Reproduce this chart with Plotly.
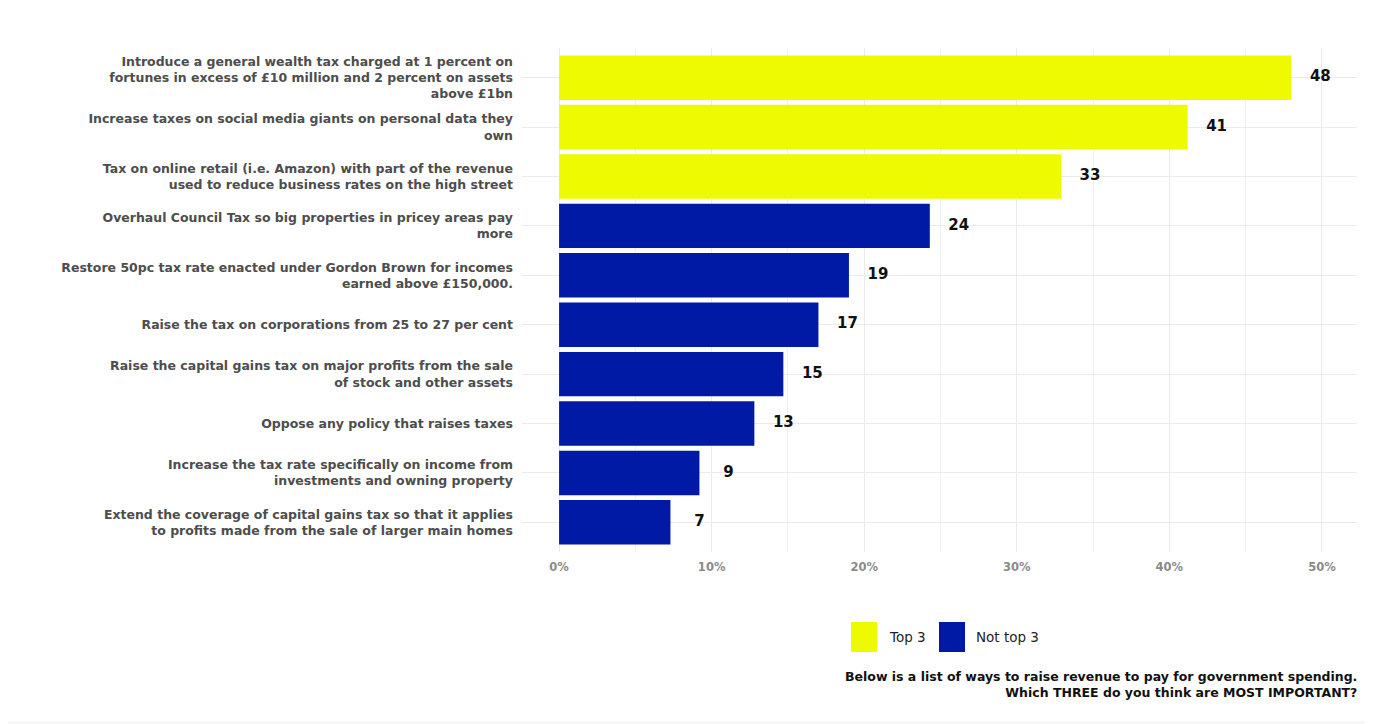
import plotly.graph_objects as go

# ---- data ----
categories = [
    "Introduce a general wealth tax charged at 1 percent on<br>fortunes in excess of £10 million and 2 percent on assets<br>above £1bn",
    "Increase taxes on social media giants on personal data they<br>own",
    "Tax on online retail (i.e. Amazon) with part of the revenue<br>used to reduce business rates on the high street",
    "Overhaul Council Tax so big properties in pricey areas pay<br>more",
    "Restore 50pc tax rate enacted under Gordon Brown for incomes<br>earned above £150,000.",
    "Raise the tax on corporations from 25 to 27 per cent",
    "Raise the capital gains tax on major profits from the sale<br>of stock and other assets",
    "Oppose any policy that raises taxes",
    "Increase the tax rate specifically on income from<br>investments and owning property",
    "Extend the coverage of capital gains tax so that it applies<br>to profits made from the sale of larger main homes",
]
values = [48.0, 41.2, 32.9, 24.3, 19.0, 17.0, 14.7, 12.8, 9.2, 7.3]
labels = ["48", "41", "33", "24", "19", "17", "15", "13", "9", "7"]
groups = ["Top 3"] * 3 + ["Not top 3"] * 7
group_names = ["Top 3", "Not top 3"]
colors = {"Top 3": "#eefb00", "Not top 3": "#001aa6"}
x_ticks = [0, 10, 20, 30, 40, 50]
caption = ("Below is a list of ways to raise revenue to pay for government spending.<br>"
           "Which THREE do you think are MOST IMPORTANT?")

# ---- layout geometry (page pixels; the page body adds an 8px offset) ----
OFF = 8
W, H = 1373 - OFF, 724 - OFF
PL, PR, PT, PB = 522, 1357, 48, 552   # plot area in page pixels

def px_x(p):
    return (p - PL) / (PR - PL)

def px_y(p):
    return (PB - p) / (PB - PT)

FONT = "DejaVu Sans, Liberation Sans, Arial, sans-serif"

fig = go.Figure()
for g in group_names:
    xs = [v for v, gg in zip(values, groups) if gg == g]
    ys = [c for c, gg in zip(categories, groups) if gg == g]
    fig.add_trace(go.Bar(
        x=xs, y=ys, orientation="h", name=g,
        marker=dict(color=colors[g], line=dict(width=0)),
        showlegend=False, hoverinfo="x+y",
    ))

fig.add_trace(go.Scatter(
    x=[v + 1.9 for v in values], y=categories, mode="text", text=labels,
    textposition="middle center",
    textfont=dict(family=FONT, size=15, color="#111111", weight="bold"),
    showlegend=False, hoverinfo="skip",
))

shapes = [
    dict(type="rect", xref="paper", yref="paper", layer="below",
         x0=px_x(6), x1=px_x(1367), y0=px_y(721), y1=px_y(0),
         fillcolor="white", line=dict(width=0)),
]
annotations = []
legend_items = [("Top 3", 851, 877, 887), ("Not top 3", 939, 965, 974)]
for name, x0, x1, tx in legend_items:
    shapes.append(dict(type="rect", xref="paper", yref="paper",
                       x0=px_x(x0), x1=px_x(x1), y0=px_y(652), y1=px_y(622),
                       fillcolor=colors[name], line=dict(width=0)))
    annotations.append(dict(xref="paper", yref="paper", x=px_x(tx), y=px_y(637),
                            xanchor="left", yanchor="middle", showarrow=False,
                            text=name,
                            font=dict(family=FONT, size=13.5, color="#222222")))
annotations.append(dict(xref="paper", yref="paper", x=px_x(1359), y=px_y(667),
                        xanchor="right", yanchor="top", align="right",
                        showarrow=False, text=caption,
                        font=dict(family=FONT, size=12.5, color="#111111", weight="bold")))

fig.update_layout(
    width=W, height=H,
    margin=dict(l=PL - OFF, r=W - (PR - OFF), t=PT - OFF, b=H - (PB - OFF), pad=0),
    paper_bgcolor="#f7f7f7", plot_bgcolor="white",
    barmode="overlay", bargap=0.1,
    shapes=shapes, annotations=annotations,
    font=dict(family=FONT),
    showlegend=False,
)
fig.update_xaxes(
    range=[-2.43, 52.3], tickvals=x_ticks, ticktext=[f"{t}%" for t in x_ticks],
    showgrid=True, gridcolor="#ebebeb", gridwidth=1, zeroline=False,
    showline=False, ticks="", ticklabelstandoff=6,
    tickfont=dict(family=FONT, size=11.5, color="#8a8a8a", weight="bold"),
    minor=dict(dtick=5, tick0=0, showgrid=True, gridcolor="#f0f0f0", gridwidth=1, ticks=""),
)
fig.update_yaxes(
    categoryorder="array", categoryarray=categories, range=[9.6, -0.6],
    showgrid=True, gridcolor="#ebebeb", gridwidth=1, zeroline=False,
    showline=False, ticks="", ticklabelstandoff=8,
    tickfont=dict(family=FONT, size=12.5, color="#4d4d4d", weight="bold"),
)

fig.write_html("out.html")
